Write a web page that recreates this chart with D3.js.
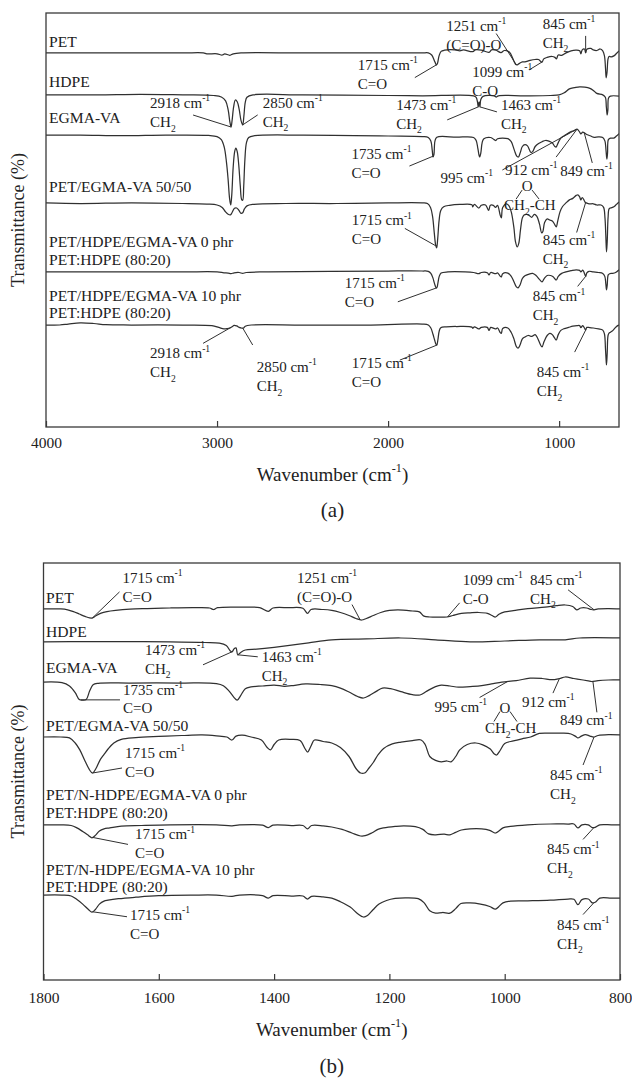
<!DOCTYPE html>
<html>
<head>
<meta charset="utf-8">
<script src="https://cdn.jsdelivr.net/npm/d3@7"></script>
<style>
  body { margin: 0; background: #fff; }
  svg { display: block; }
  svg text { font-family: "Liberation Serif", "Times New Roman", Times, serif; }
</style>
</head>
<body>
<svg id="chart" width="632" height="1079"></svg>
<script>
// ===== FTIR spectra: [wavenumber (cm-1), transmittance change from the trace's stack level] =====

// ---- (a) full range 4000-650 cm-1 ----
const ticksA = [4000, 3000, 2000, 1000];
const namesA = [
  ["PET"], ["HDPE"], ["EGMA-VA"], ["PET/EGMA-VA 50/50"],
  ["PET/HDPE/EGMA-VA 0 phr", "PET:HDPE (80:20)"],
  ["PET/HDPE/EGMA-VA 10 phr", "PET:HDPE (80:20)"]
];
const offsetsA = [124.7, 110.7, 97.3, 74.7, 51.7, 34.0];

const petA = [[4000,0],[3600,0],[3200,0],[3080,0],[3060,-0.3],[3000,-0.3],[2970,-0.7],[2955,-0.3],[2925,-0.8],[2905,-0.3],[2860,0],[2500,0],[2000,0],[1800,0],[1765,0],[1745,-0.7],[1730,-2.5],[1720,-3.8],[1716,-4],[1711,-3.5],[1702,-1],[1690,0.5],[1670,0.9],[1610,1],[1580,0.7],[1560,1],[1505,0.4],[1490,1],[1455,0.9],[1410,0.2],[1395,1],[1370,0.9],[1340,0.1],[1320,0.8],[1290,0.2],[1270,-2],[1255,-3.8],[1245,-4],[1232,-3.5],[1215,-3],[1200,-3],[1170,-2.5],[1140,-2.2],[1120,-2.2],[1105,-3],[1099,-3],[1090,-2],[1070,-1.5],[1040,-1.2],[1025,-1.5],[1016,-2],[1005,-0.7],[985,-0.8],[960,0],[930,0.7],[900,0.9],[880,0.7],[873,-0.3],[865,1],[852,1.3],[845,0],[838,1.2],[815,1.5],[800,1],[780,0.8],[760,1.3],[745,0.7],[735,-1],[729,-5],[725,-8.3],[720,-6.5],[714,-2],[708,-1.2],[695,-1.3],[680,-1],[665,-0.2],[650,0.7]];

const hdpeA = [[4000,0],[3700,0],[3450,0.2],[3200,0],[3020,-0.2],[2975,-0.7],[2950,-2],[2935,-5],[2925,-9],[2918,-10.7],[2912,-8.5],[2903,-4],[2893,-1.7],[2882,-2.3],[2870,-5],[2860,-8.5],[2850,-10],[2843,-7],[2835,-2.5],[2825,-0.8],[2790,0],[2500,0],[2000,-0.2],[1800,-0.3],[1500,-0.3],[1485,-0.8],[1477,-2.5],[1473,-4],[1468,-2.3],[1463,-4],[1458,-1.5],[1445,-0.5],[1380,-0.3],[1368,-0.7],[1355,-0.3],[1200,-0.3],[1050,-0.2],[1000,0],[970,0.7],[940,2],[910,2.4],[880,2.7],[850,2.6],[820,2.2],[800,1.5],[780,0.5],[745,0],[730,-0.8],[724,-4],[719,-6.7],[715,-5],[711,-1],[700,-0.4],[650,-0.4]];

const egmaA = [[4000,0],[3800,0],[3550,-0.2],[3300,0],[3050,-0.1],[3000,-0.5],[2975,-1.5],[2958,-4],[2945,-9],[2935,-15],[2927,-21],[2920,-23.3],[2914,-20],[2906,-11],[2897,-5.5],[2890,-4.3],[2882,-5.5],[2873,-10],[2864,-17],[2856,-21.5],[2850,-21.7],[2844,-17],[2837,-8],[2828,-2.5],[2815,-0.8],[2780,-0.2],[2500,0],[2000,-0.3],[1800,-0.5],[1765,-0.8],[1750,-2],[1742,-5],[1737,-7.3],[1732,-6.5],[1726,-2],[1715,-0.7],[1600,-0.7],[1500,-0.8],[1485,-1.8],[1475,-4.5],[1465,-7.3],[1458,-6],[1450,-2.5],[1440,-1.2],[1400,-0.8],[1380,-1.5],[1370,-1.8],[1360,-1.2],[1300,-1.2],[1280,-2.2],[1262,-5],[1248,-7],[1238,-7.3],[1228,-6],[1215,-3.8],[1200,-3.2],[1185,-3.6],[1165,-5.8],[1155,-5.5],[1140,-3.8],[1120,-2.8],[1100,-2.2],[1080,-1.8],[1060,-2],[1040,-2.6],[1025,-3.8],[1018,-4],[1005,-2.5],[990,-1],[970,-0.2],[950,0.5],[930,1.2],[912,1.5],[895,2],[880,1],[873,0.4],[862,1],[849,0.6],[835,0.1],[815,-0.3],[800,-0.7],[770,-0.6],[745,-0.8],[732,-2],[726,-5],[721,-8],[717,-6],[712,-1.5],[700,-1],[680,-1],[665,-0.3],[650,0.5]];

const blend5050A = [[4000,0],[3800,-0.2],[3500,0],[3200,-0.2],[3060,-0.4],[3000,-0.7],[2970,-1.5],[2950,-3],[2935,-3.8],[2922,-4],[2912,-3.2],[2898,-1.8],[2885,-1.7],[2872,-2.5],[2860,-3.5],[2850,-3.3],[2840,-2],[2825,-1],[2790,-0.5],[2600,-0.2],[2300,-0.2],[2000,0],[1800,0],[1770,-0.2],[1752,-1.5],[1740,-4.5],[1730,-10],[1722,-14],[1716,-15],[1710,-12],[1702,-6],[1692,-2.5],[1675,-1.3],[1640,-0.8],[1580,-0.5],[1510,-0.6],[1505,-1.3],[1495,-0.5],[1470,-1.7],[1455,-0.8],[1430,-0.7],[1412,-2.5],[1402,-0.8],[1385,-0.8],[1372,-1.5],[1360,-0.8],[1345,-4],[1338,-5],[1330,-1.5],[1310,-0.3],[1295,-0.8],[1280,-3],[1265,-8],[1255,-13],[1245,-14.7],[1236,-13.5],[1226,-9],[1215,-5],[1205,-4],[1190,-3.8],[1175,-4.2],[1160,-4.8],[1145,-3.8],[1130,-4.5],[1115,-7],[1102,-10],[1095,-9.5],[1085,-6.5],[1070,-5.3],[1055,-5.7],[1040,-6],[1025,-7.3],[1017,-8],[1008,-6],[995,-3],[980,-1.2],[960,0],[940,1],[920,1.5],[900,2.5],[890,2.7],[880,2],[873,1],[865,1.8],[855,1],[849,0.3],[842,0],[825,-0.3],[800,-0.3],[780,-0.7],[755,-0.7],[740,-1.5],[732,-5],[727,-11],[723,-16.3],[719,-13],[714,-5],[708,-2],[700,-1.7],[680,-1.3],[665,-0.5],[650,0.3]];

const phr0A = [[4000,0],[3600,0],[3200,0],[3000,0],[2960,-0.3],[2935,-0.4],[2918,-0.6],[2900,-0.3],[2870,-0.2],[2850,-0.5],[2830,-0.2],[2700,0],[2000,0.3],[1800,0.3],[1765,0.2],[1750,-0.5],[1738,-2],[1728,-4],[1720,-5.2],[1715,-5.3],[1709,-3.8],[1701,-1.5],[1690,-0.4],[1650,0],[1550,0],[1500,-0.2],[1470,-0.6],[1455,-0.2],[1420,-0.3],[1410,-1],[1400,-0.2],[1372,-0.6],[1360,-0.3],[1345,-1.4],[1338,-1.7],[1330,-0.6],[1300,-0.4],[1280,-1.5],[1265,-3.2],[1250,-5],[1240,-5.3],[1228,-4.3],[1215,-2.2],[1200,-1.3],[1180,-0.8],[1155,-0.5],[1135,-1.2],[1115,-2.5],[1100,-3.3],[1088,-2.3],[1070,-1.2],[1050,-1.2],[1035,-1.6],[1017,-2.7],[1005,-1.5],[985,-0.5],[960,0],[930,0.4],[900,0.7],[880,0.5],[873,0],[862,0.6],[852,-0.5],[845,-1.5],[838,-0.3],[825,0.2],[800,0],[770,-0.2],[745,-0.5],[733,-1.5],[727,-4],[723,-6],[719,-4.5],[713,-1],[705,-0.6],[690,-0.5],[670,-0.2],[650,0.7]];

const phr10A = [[4000,0],[3920,0],[3870,0.3],[3800,0.7],[3720,0.5],[3650,0.1],[3500,0],[3200,0],[3030,-0.2],[2990,-0.8],[2960,-1.3],[2940,-1.2],[2925,-1],[2912,-0.6],[2900,-0.1],[2885,-0.3],[2870,-0.8],[2858,-1],[2845,-1],[2835,-0.4],[2800,0],[2500,0],[2100,0],[1800,0.3],[1765,0],[1750,-1],[1738,-3],[1728,-5],[1720,-6.4],[1715,-6.7],[1709,-5],[1701,-2],[1692,-0.9],[1660,-0.6],[1600,-0.5],[1510,-0.7],[1505,-1.1],[1495,-0.6],[1470,-1.3],[1455,-0.8],[1420,-0.8],[1410,-1.8],[1400,-0.8],[1372,-1.3],[1360,-1],[1345,-2.5],[1338,-2.8],[1330,-1.2],[1300,-1],[1280,-2.5],[1265,-4.5],[1250,-7.2],[1240,-7.7],[1228,-6.6],[1215,-4.6],[1200,-4],[1180,-3.5],[1160,-3.8],[1140,-3.2],[1125,-4.5],[1110,-6.5],[1100,-7.3],[1088,-5.5],[1070,-3.5],[1055,-2.8],[1040,-3.2],[1027,-4.3],[1017,-5],[1005,-3.2],[990,-1.8],[970,-1.2],[945,-0.8],[920,-0.4],[895,-0.2],[880,-0.2],[873,-0.9],[862,-0.2],[852,-1],[845,-1.7],[838,-0.8],[820,-0.9],[800,-1],[770,-1.3],[745,-1.7],[735,-3],[729,-8],[725,-12],[723,-13.3],[719,-9.5],[714,-3.5],[708,-2.7],[700,-2.4],[685,-1.8],[670,-0.8],[658,-0.2],[650,0]];

// ---- (b) fingerprint region 1800-800 cm-1 ----
const ticksB = [1800, 1600, 1400, 1200, 1000, 800];
const namesB = [
  ["PET"], ["HDPE"], ["EGMA-VA"], ["PET/EGMA-VA 50/50"],
  ["PET/N-HDPE/EGMA-VA 0 phr", "PET:HDPE (80:20)"],
  ["PET/N-HDPE/EGMA-VA 10 phr", "PET:HDPE (80:20)"]
];
const offsetsB = [123.7, 112.7, 99.3, 81.0, 51.7, 28.3];

const petB = [[1800,0],[1770,0],[1758,-0.3],[1748,-0.9],[1738,-1.7],[1728,-2.5],[1720,-3],[1715,-3],[1709,-2.3],[1700,-1.4],[1690,-0.9],[1675,-0.5],[1650,-0.1],[1620,0.1],[1580,0.3],[1540,0.4],[1512,0.3],[1505,-0.2],[1498,0.4],[1460,0.6],[1425,0.4],[1410,-0.8],[1402,0.3],[1375,0.4],[1350,0.2],[1342,-1.5],[1336,-0.2],[1315,-0.2],[1300,-0.5],[1285,-1.2],[1270,-2.2],[1258,-3.2],[1248,-3.7],[1240,-3.2],[1228,-2.2],[1215,-1.2],[1200,-0.5],[1185,-0.3],[1160,-0.7],[1148,-1],[1140,-2.4],[1130,-2.7],[1115,-2.7],[1100,-2.7],[1090,-2.2],[1075,-1.5],[1060,-1.3],[1045,-1.2],[1030,-1.5],[1022,-2.2],[1016,-2.7],[1010,-1.8],[1000,-1],[985,-0.6],[960,0.1],[930,0.6],[910,1.1],[895,1.3],[882,0.8],[875,-0.3],[868,0.3],[858,0.3],[850,-0.2],[845,-0.3],[838,0],[820,0.1],[800,0]];

const hdpeB = [[1800,0],[1720,0.1],[1650,0.1],[1580,0],[1520,-0.2],[1495,-0.4],[1483,-1.2],[1476,-3],[1473,-3.3],[1469,-2.2],[1466,-2],[1463,-4.3],[1458,-3.5],[1450,-2.7],[1430,-2.4],[1400,-1.8],[1370,-1.1],[1340,-0.3],[1300,0.7],[1240,1],[1180,1.3],[1120,0.7],[1060,0],[1000,0.3],[940,0.7],[895,0.7],[870,1.3],[800,1.3]];

const egmaB = [[1800,0],[1768,-0.2],[1755,-1.3],[1745,-3.5],[1738,-5.8],[1733,-6],[1726,-5.8],[1720,-3],[1714,-0.9],[1705,-0.4],[1650,-0.3],[1560,-0.3],[1500,-0.5],[1488,-1.2],[1478,-3],[1470,-5],[1464,-6],[1458,-4.5],[1450,-2.2],[1440,-1.6],[1420,-1.3],[1400,-1],[1382,-1.4],[1370,-1.2],[1345,-0.6],[1320,-0.8],[1300,-1.2],[1285,-2],[1270,-3.3],[1255,-4.8],[1245,-5.3],[1235,-4.5],[1222,-3],[1212,-2],[1198,-2.2],[1180,-3.2],[1160,-4.2],[1147,-4.3],[1135,-3],[1120,-1.5],[1110,-1],[1095,-1.3],[1080,-1.7],[1060,-1.5],[1040,-1.2],[1020,-0.5],[1005,0],[980,0.5],[956,1.3],[935,1.2],[918,0.8],[905,1.2],[895,1.7],[880,1.2],[864,0.7],[855,0.4],[849,0.2],[838,0.5],[820,0.7],[800,0.7]];

const blend5050B = [[1800,0],[1770,0],[1755,-0.3],[1745,-2],[1737,-4.3],[1728,-8],[1720,-11],[1715,-12],[1709,-10.5],[1702,-7.7],[1695,-5.8],[1688,-4],[1678,-2],[1665,-0.8],[1640,-0.2],[1600,0.2],[1560,0.5],[1525,0.7],[1500,0.4],[1482,0],[1473,-1],[1466,0.3],[1455,0.6],[1440,0],[1422,-1],[1412,-3.5],[1406,-4.3],[1400,-2.5],[1392,-1],[1370,-0.8],[1355,-1.2],[1346,-4],[1342,-5],[1336,-3],[1330,-1],[1315,-1.5],[1300,-2],[1285,-3.5],[1270,-6.5],[1258,-10.5],[1250,-12],[1243,-12],[1236,-10.5],[1228,-8.5],[1220,-6],[1210,-3.8],[1195,-2.3],[1180,-1.7],[1160,-1.2],[1145,-1],[1138,-2.5],[1130,-6.5],[1120,-7.8],[1110,-8.3],[1100,-8],[1093,-8.3],[1085,-6.5],[1078,-4.3],[1065,-2.5],[1050,-2],[1038,-2.6],[1025,-4],[1018,-5.7],[1014,-6],[1008,-4.5],[1000,-2.2],[985,-1.3],[970,-0.6],[955,0],[940,1.2],[920,1.3],[900,1.3],[885,1],[877,0.2],[873,-0.3],[867,0.3],[860,0.8],[852,0.3],[845,0],[838,0.5],[820,0.8],[800,0.7]];

const phr0B = [[1800,0],[1770,0],[1752,-0.2],[1742,-1],[1732,-2.2],[1722,-3.5],[1716,-4.3],[1710,-3.5],[1703,-2],[1695,-1.3],[1685,-1],[1665,-0.4],[1630,-0.2],[1580,0],[1500,0],[1473,-0.3],[1460,0],[1420,-0.1],[1410,-0.9],[1402,-0.1],[1370,-0.2],[1350,-0.2],[1342,-1.3],[1335,-0.2],[1315,-0.3],[1300,-0.7],[1282,-1.5],[1265,-2.7],[1250,-3.7],[1242,-3.6],[1230,-2.6],[1220,-1.5],[1210,-1],[1190,-0.5],[1175,-0.3],[1155,-0.6],[1142,-1.5],[1132,-3],[1120,-3.3],[1105,-3.1],[1095,-3.3],[1085,-2.5],[1075,-1.7],[1060,-1.3],[1040,-1.3],[1026,-1.8],[1016,-2.7],[1010,-2],[1003,-1],[990,-0.5],[960,0],[921,0.3],[890,0.3],[880,0.3],[873,-1],[866,0],[855,0],[848,-0.9],[843,-0.8],[835,0],[815,0],[800,0]];

const phr10B = [[1800,0],[1768,0],[1752,-0.3],[1742,-1.5],[1732,-3],[1722,-4.8],[1716,-5.7],[1710,-4.8],[1703,-3],[1695,-2],[1688,-1.7],[1670,-1.2],[1640,-0.7],[1600,-0.2],[1540,0],[1500,0],[1473,-0.4],[1460,0],[1420,-0.2],[1410,-1],[1402,-0.2],[1370,-0.3],[1350,-0.3],[1342,-1.3],[1335,-0.4],[1315,-0.6],[1300,-1],[1285,-2.2],[1268,-4],[1255,-6.2],[1245,-7.3],[1238,-6.8],[1228,-4.8],[1218,-3],[1205,-1.8],[1190,-1.1],[1170,-0.9],[1150,-1.2],[1140,-2.5],[1130,-5.2],[1120,-6],[1108,-5.8],[1095,-6],[1085,-4.5],[1076,-2.8],[1060,-2.6],[1042,-3],[1026,-3.8],[1016,-4.7],[1010,-3.8],[1003,-2.6],[990,-2],[960,-1.9],[921,-1.7],[890,-1.3],[880,-1.4],[873,-3.2],[866,-1.5],[855,-1.3],[848,-2.6],[843,-2.4],[835,-1],[815,-1],[800,-1]];

// ---- band assignments: series index, band position, label lines ----
// dx/dy: label offset from the band point, lx/ly: leader start offset (px),
// gap: optional spacing between the two label lines
const bandsA = [
  {s:0, wn:1715, text:["1715 cm^{-1}", "C=O"], dx:-79, dy:5, lx:-22, ly:13},
  {s:0, wn:1251, text:["1251 cm^{-1}", "(C=O)-O"], dx:-70, dy:-34, lx:-20, ly:-31},
  {s:0, wn:1099, text:["1099 cm^{-1}", "C-O"], dx:-70, dy:15, lx:-13, ly:8},
  {s:0, wn:845, text:["845 cm^{-1}", "CH_{2}"], dx:-43, dy:-24, lx:0, ly:-17},
  {s:1, wn:2918, text:["2918 cm^{-1}", "CH_{2}"], dx:-81, dy:-19, lx:-38, ly:-12},
  {s:1, wn:2850, text:["2850 cm^{-1}", "CH_{2}"], dx:20, dy:-17, lx:15, ly:-10},
  {s:1, wn:1473, text:["1473 cm^{-1}", "CH_{2}"], dx:-82, dy:3, lx:-31, ly:13},
  {s:1, wn:1463, text:["1463 cm^{-1}", "CH_{2}"], dx:21, dy:3, lx:17, ly:5},
  {s:2, wn:1735, text:["1735 cm^{-1}", "C=O"], dx:-82, dy:3, lx:-24, ly:10},
  {s:2, wn:905, text:["995 cm^{-1}"], dx:-135, dy:53, lx:-73, ly:40},
  {s:2, wn:895, text:["912 cm^{-1}"], dx:-72, dy:46, lx:-21, ly:28,
    ring:{o:[-50,62], ch:[-73,81], l1:[-55,61,-61,70], l2:[-45,61,-38,70]}},
  {s:2, wn:853, text:["849 cm^{-1}"], dx:-24, dy:43, lx:8, ly:30},
  {s:3, wn:1715, text:["1715 cm^{-1}", "C=O"], dx:-85, dy:-21, lx:-32, ly:-18},
  {s:3, wn:845, text:["845 cm^{-1}", "CH_{2}"], dx:-43, dy:42, lx:-9, ly:30},
  {s:4, wn:1715, text:["1715 cm^{-1}", "C=O"], dx:-92, dy:0, lx:-39, ly:14},
  {s:4, wn:845, text:["845 cm^{-1}", "CH_{2}"], dx:-53, dy:25, lx:-8, ly:10},
  {s:5, wn:2918, text:["2918 cm^{-1}", "CH_{2}"], dx:-81, dy:31, lx:-28, ly:16},
  {s:5, wn:2850, text:["2850 cm^{-1}", "CH_{2}"], dx:14, dy:44, lx:10, ly:17},
  {s:5, wn:1715, text:["1715 cm^{-1}", "C=O"], dx:-85, dy:23, lx:-37, ly:15},
  {s:5, wn:845, text:["845 cm^{-1}", "CH_{2}"], dx:-49, dy:47, lx:-11, ly:22}
];

const bandsB = [
  {s:0, wn:1715, text:["1715 cm^{-1}", "C=O"], dx:30, dy:-35, lx:27, ly:-26},
  {s:0, wn:1251, text:["1251 cm^{-1}", "(C=O)-O"], dx:-63, dy:-37, lx:-8, ly:-15},
  {s:0, wn:1099, text:["1099 cm^{-1}", "C-O"], dx:15, dy:-32, lx:12, ly:-14},
  {s:0, wn:845, text:["845 cm^{-1}", "CH_{2}"], dx:-64, dy:-25, lx:-26, ly:-20},
  {s:1, wn:1473, text:["1473 cm^{-1}", "CH_{2}"], dx:-87, dy:3, lx:-29, ly:13},
  {s:1, wn:1463, text:["1463 cm^{-1}", "CH_{2}"], dx:24, dy:7, lx:20, ly:2},
  {s:2, wn:1735, text:["1735 cm^{-1}", "C=O"], dx:42, dy:-5, lx:39, ly:0, gap:18},
  {s:2, wn:995, text:["995 cm^{-1}"], dx:-73, dy:30, lx:-28, ly:16},
  {s:2, wn:905, text:["912 cm^{-1}"], dx:-37.5, dy:28.6, lx:-6.5, ly:14.6,
    ring:{o:[-54.5,34.6], ch:[-74.5,54.6], l1:[-59.5,33,-65.5,43], l2:[-49.5,33,-42.5,43]}},
  {s:2, wn:847, text:["849 cm^{-1}"], dx:-33, dy:44, lx:4, ly:31},
  {s:3, wn:1715, text:["1715 cm^{-1}", "C=O"], dx:32.5, dy:-15, lx:29.5, ly:-5},
  {s:3, wn:845, text:["845 cm^{-1}", "CH_{2}"], dx:-44, dy:43, lx:-11, ly:28},
  {s:4, wn:1715, text:["1715 cm^{-1}", "C=O"], dx:42.5, dy:2, lx:35.5, ly:7},
  {s:4, wn:845, text:["845 cm^{-1}", "CH_{2}"], dx:-47, dy:27, lx:-11, ly:12},
  {s:5, wn:1715, text:["1715 cm^{-1}", "C=O"], dx:37.5, dy:8, lx:34.5, ly:5},
  {s:5, wn:845, text:["845 cm^{-1}", "CH_{2}"], dx:-37, dy:27, lx:-11, ly:12}
];

// ===== drawing =====
const INK = "#222";
const LINE = "#303030";
const FS = 15;        // band labels
const FS_NAME = 15.6; // sample names

const panels = [
  {id: "a", caption: "(a)", domain: [4000, 650], ticks: ticksA, yDomain: [0, 138],
   left: 46, right: 619, top: 13, bottom: 427, tickPad: 10, titleY: 481, captionY: 517,
   names: namesA, offsets: offsetsA, series: [petA, hdpeA, egmaA, blend5050A, phr0A, phr10A],
   nameDy: [-6, -8, -12, -11, -7, -7], nameX: 49, bands: bandsA},
  {id: "b", caption: "(b)", domain: [1800, 800], ticks: ticksB, yDomain: [0, 139],
   left: 43.5, right: 620, top: 563, bottom: 980, tickPad: 12, titleY: 1036, captionY: 1073,
   names: namesB, offsets: offsetsB, series: [petB, hdpeB, egmaB, blend5050B, phr0B, phr10B],
   nameDy: [-6, -5, -9, -6, -7, -3], nameX: 46, bands: bandsB}
];

const svg = d3.select("#chart");
svg.append("rect").attr("width", 632).attr("height", 1079).attr("fill", "#fff");

// text with ^{sup} and _{sub} markup
function rich(sel, str, fs) {
  const parts = str.split(/(\^\{[^}]*\}|_\{[^}]*\})/).filter(p => p !== "");
  let cur = 0;
  parts.forEach(p => {
    let txt = p, off = 0, size = fs;
    if (p[0] === "^") { txt = p.slice(2, -1); off = -0.45 * fs; size = fs * 0.64; }
    else if (p[0] === "_") { txt = p.slice(2, -1); off = 0.3 * fs; size = fs * 0.64; }
    sel.append("tspan").attr("dy", off - cur).style("font-size", size + "px").text(txt);
    cur = off;
  });
}

// linear read-out of a trace at a given wavenumber (points run high -> low)
function valueAt(pts, wn) {
  for (let i = 0; i < pts.length - 1; i++) {
    const [w0, v0] = pts[i], [w1, v1] = pts[i + 1];
    if (wn <= w0 && wn >= w1) return w0 === w1 ? v0 : v0 + (v1 - v0) * (w0 - wn) / (w0 - w1);
  }
  return pts[pts.length - 1][1];
}

panels.forEach(p => {
  const g = svg.append("g").attr("fill", INK);
  const x = d3.scaleLinear().domain(p.domain).range([p.left, p.right]);
  const y = d3.scaleLinear().domain(p.yDomain).range([p.bottom, p.top]);

  g.append("clipPath").attr("id", "clip-" + p.id)
    .append("rect").attr("x", p.left).attr("y", p.top)
    .attr("width", p.right - p.left).attr("height", p.bottom - p.top);

  // spectra
  p.series.forEach((pts, i) => {
    const line = d3.line()
      .x(d => x(d[0]))
      .y(d => y(p.offsets[i] + d[1]))
      .curve(d3.curveCatmullRom.alpha(0.5));
    g.append("path").datum(pts)
      .attr("clip-path", `url(#clip-${p.id})`)
      .attr("d", line)
      .attr("fill", "none").attr("stroke", LINE)
      .attr("stroke-width", 1.25).attr("stroke-linejoin", "round");
  });

  // sample names
  p.names.forEach((lines, i) => {
    const base = y(p.offsets[i]) + p.nameDy[i];
    lines.forEach((t, k) => {
      g.append("text").attr("x", p.nameX)
        .attr("y", base - (lines.length - 1 - k) * 17.5)
        .style("font-size", FS_NAME + "px").text(t);
    });
  });

  // band assignments
  p.bands.forEach(b => {
    const px = x(b.wn);
    const py = y(p.offsets[b.s] + valueAt(p.series[b.s], b.wn));
    const gap = b.gap || 19;
    g.append("line")
      .attr("x1", px + b.lx).attr("y1", py + b.ly).attr("x2", px).attr("y2", py)
      .attr("stroke", LINE).attr("stroke-width", 1);
    b.text.forEach((t, k) => {
      const te = g.append("text").attr("x", px + b.dx).attr("y", py + b.dy + k * gap)
        .style("font-size", FS + "px");
      rich(te, t, FS);
    });
    if (b.ring) {
      const r = b.ring;
      g.append("text").attr("x", px + r.o[0]).attr("y", py + r.o[1])
        .attr("text-anchor", "middle").style("font-size", FS + "px").text("O");
      const te = g.append("text").attr("x", px + r.ch[0]).attr("y", py + r.ch[1])
        .style("font-size", FS + "px");
      rich(te, "CH_{2}-CH", FS);
      [r.l1, r.l2].forEach(l => {
        g.append("line")
          .attr("x1", px + l[0]).attr("y1", py + l[1])
          .attr("x2", px + l[2]).attr("y2", py + l[3])
          .attr("stroke", LINE).attr("stroke-width", 1);
      });
    }
  });

  // frame
  g.append("rect").attr("x", p.left).attr("y", p.top)
    .attr("width", p.right - p.left).attr("height", p.bottom - p.top)
    .attr("fill", "none").attr("stroke", "#3a3a3a").attr("stroke-width", 1.3);

  // bottom axis with inward ticks
  const axis = d3.axisBottom(x).tickValues(p.ticks)
    .tickSizeInner(-6).tickSizeOuter(0).tickPadding(p.tickPad)
    .tickFormat(d3.format("d"));
  const ag = g.append("g").attr("transform", `translate(0,${p.bottom})`).call(axis);
  ag.attr("font-family", null);
  ag.select(".domain").remove();
  ag.selectAll("line").attr("stroke", "#3a3a3a").attr("stroke-width", 1.2);
  ag.selectAll("text").style("font-size", "15.5px").attr("fill", INK);

  const cx = (p.left + p.right) / 2;
  const title = g.append("text").attr("x", cx).attr("y", p.titleY)
    .attr("text-anchor", "middle").style("font-size", "19px");
  rich(title, "Wavenumber (cm^{-1})", 19);

  g.append("text")
    .attr("transform", `translate(24,${(p.top + p.bottom) / 2}) rotate(-90)`)
    .attr("text-anchor", "middle").style("font-size", "18px").text("Transmittance (%)");

  g.append("text").attr("x", cx).attr("y", p.captionY)
    .attr("text-anchor", "middle").style("font-size", "21px").text(p.caption);
});
</script>
</body>
</html>
